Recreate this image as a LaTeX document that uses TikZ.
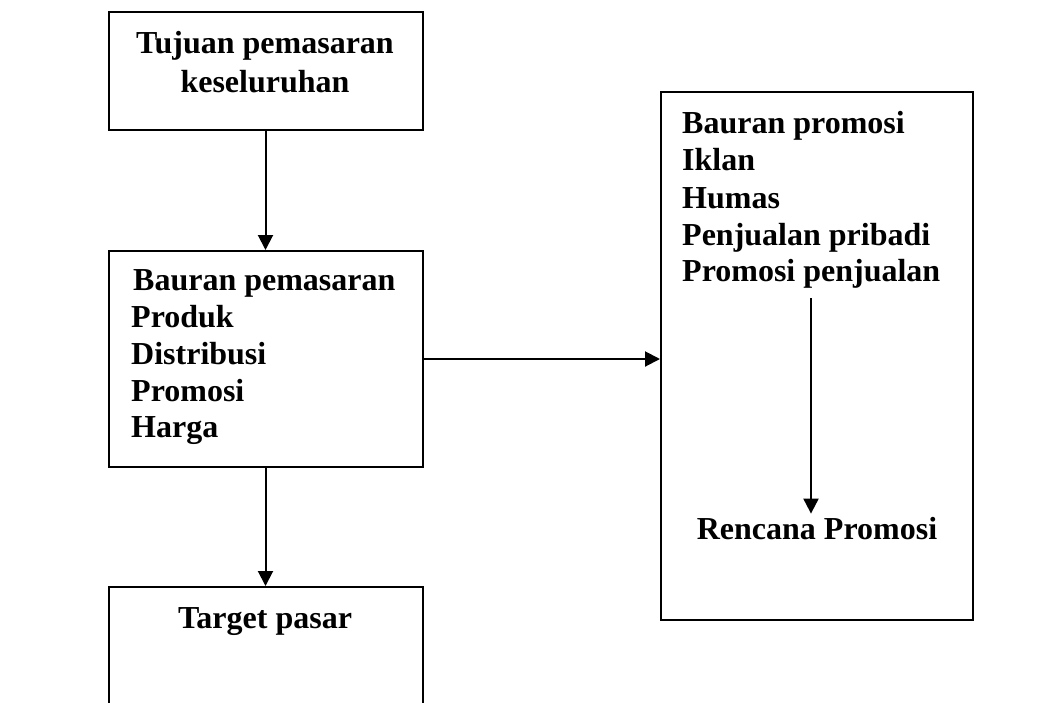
\documentclass[tikz,border=0pt]{standalone}
\usepackage{fontspec}
\setmainfont{Liberation Serif}
\usetikzlibrary{arrows.meta}
\begin{document}
\begin{tikzpicture}[x=1pt,y=-1pt,
  box/.style={draw, line width=2pt, inner sep=0pt},
  lbl/.style={font=\fontsize{32}{37}\selectfont\bfseries, inner sep=0pt, anchor=base west},
  clbl/.style={font=\fontsize{32}{37}\selectfont\bfseries, inner sep=0pt, anchor=base},
  arr/.style={line width=2pt, -{Triangle[length=15pt,width=15pt]}}]
\useasboundingbox (0,0) rectangle (1058,702);
\clip (0,0) rectangle (1058,702);
% boxes
\node[box, minimum width=314pt, minimum height=118pt] (top) at (265.5,71) {};
\node[box, minimum width=314pt, minimum height=216pt] (mid) at (265.5,359) {};
\node[box, minimum width=314pt, minimum height=153pt] (bot) at (265.5,663.5) {};
\node[box, minimum width=312pt, minimum height=528pt] (rbox) at (817,356) {};
% texts
\node[clbl] (t1) at (265,53) {Tujuan pemasaran};
\node[clbl] (t2) at (265,92) {keseluruhan};
\node[lbl] (m1) at (133,290) {Bauran pemasaran};
\node[lbl] (m2) at (131,327) {Produk};
\node[lbl] (m3) at (131,364) {Distribusi};
\node[lbl] (m4) at (131,401) {Promosi};
\node[lbl] (m5) at (131,437) {Harga};
\node[lbl] (r1) at (682,133) {Bauran promosi};
\node[lbl] (r2) at (682,170) {Iklan};
\node[lbl] (r3) at (682,208) {Humas};
\node[lbl] (r4) at (682,245) {Penjualan pribadi};
\node[lbl] (r5) at (682,281) {Promosi penjualan};
\node[clbl, inner ysep=3pt] (rp) at (817,539) {Rencana Promosi};
\node[clbl] (tp) at (265,628) {Target pasar};
% connectors
\draw[arr] (top.south) -- (mid.north);
\draw[arr] (mid.south) -- (bot.north);
\draw[arr] (mid.east) -- (mid.east -| rbox.west);
\coordinate (a1) at (811,298);
\draw[arr] (a1) -- (a1 |- rp.north);
\end{tikzpicture}
\end{document}
